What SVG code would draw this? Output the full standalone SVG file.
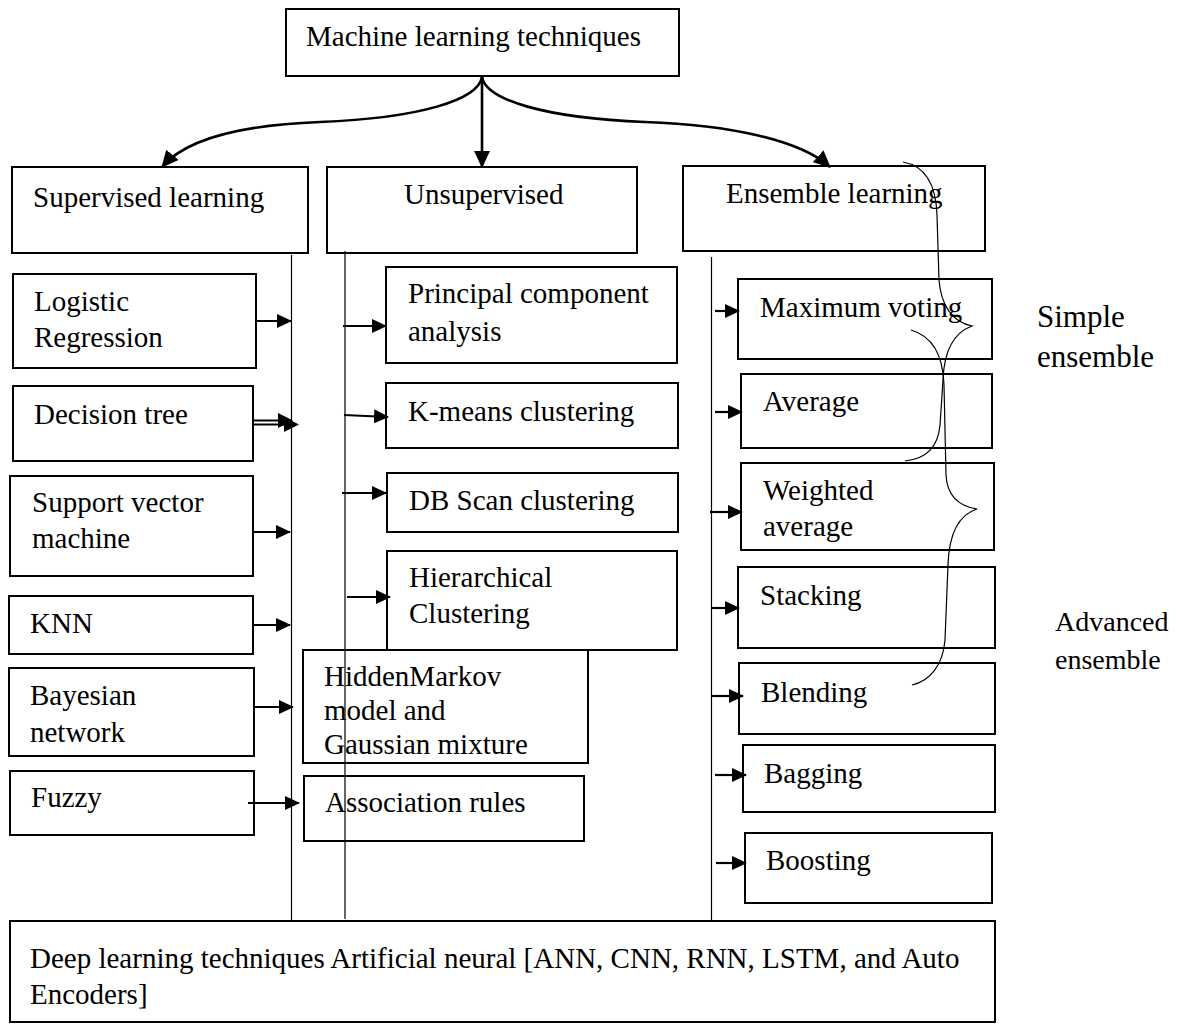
<svg xmlns="http://www.w3.org/2000/svg" width="1184" height="1030" viewBox="0 0 1184 1030">
<style>
.box{fill:none;stroke:#000;stroke-width:2}
.t{font-family:"Liberation Serif","Times New Roman",serif;font-size:29px;fill:#000}
.ar{fill:none;stroke:#000;stroke-width:2.2;marker-end:url(#ah)}
.top{fill:none;stroke:#000;stroke-width:2.6;marker-end:url(#ahb)}
.vl{fill:none;stroke:#000;stroke-width:1.2}
.br{fill:none;stroke:#000;stroke-width:1.2}
</style>
<defs>
<marker id="ah" viewBox="0 0 15 14" refX="14" refY="7" markerWidth="15" markerHeight="14" markerUnits="userSpaceOnUse" orient="auto">
<path d="M0,0 L15,7 L0,14 z" fill="#000"/>
</marker>
<marker id="ahb" viewBox="0 0 17 16" refX="16" refY="8" markerWidth="17" markerHeight="16" markerUnits="userSpaceOnUse" orient="auto">
<path d="M0,0 L17,8 L0,16 z" fill="#000"/>
</marker>
</defs>
<rect width="1184" height="1030" fill="#fff"/>

<g id="node-root"><rect class="box" x="286" y="9" width="393" height="67"/><text class="t" x="306" y="46">Machine learning techniques</text></g>
<g id="node-supervised"><rect class="box" x="12" y="167" width="296" height="86"/><text class="t" x="33" y="207">Supervised learning</text></g>
<g id="node-unsupervised"><rect class="box" x="327" y="167" width="310" height="86"/><text class="t" x="404" y="204">Unsupervised</text></g>
<g id="node-ensemble"><rect class="box" x="683" y="166" width="302" height="85"/><text class="t" x="726" y="203">Ensemble learning</text></g>

<g id="node-logistic"><rect class="box" x="13" y="274" width="243" height="94"/><text class="t" x="34" y="311">Logistic</text><text class="t" x="34" y="347">Regression</text></g>
<g id="node-decision"><rect class="box" x="13" y="386" width="240" height="75"/><text class="t" x="34" y="424">Decision tree</text></g>
<g id="node-svm"><rect class="box" x="10" y="476" width="243" height="100"/><text class="t" x="32" y="512">Support vector</text><text class="t" x="32" y="548">machine</text></g>
<g id="node-knn"><rect class="box" x="9" y="596" width="244" height="58"/><text class="t" x="30" y="633">KNN</text></g>
<g id="node-bayesian"><rect class="box" x="9" y="668" width="245" height="88"/><text class="t" x="30" y="705">Bayesian</text><text class="t" x="30" y="742">network</text></g>
<g id="node-fuzzy"><rect class="box" x="10" y="771" width="244" height="64"/><text class="t" x="31" y="807">Fuzzy</text></g>

<g id="node-pca"><rect class="box" x="386" y="267" width="291" height="96"/><text class="t" x="408" y="303">Principal component</text><text class="t" x="408" y="341">analysis</text></g>
<g id="node-kmeans"><rect class="box" x="386" y="383" width="292" height="65"/><text class="t" x="408" y="421">K-means clustering</text></g>
<g id="node-dbscan"><rect class="box" x="387" y="473" width="291" height="59"/><text class="t" x="409" y="510">DB Scan clustering</text></g>
<g id="node-hierarchical"><rect class="box" x="387" y="551" width="290" height="99"/><text class="t" x="409" y="587">Hierarchical</text><text class="t" x="409" y="623">Clustering</text></g>
<g id="node-hmm"><rect class="box" x="303" y="650" width="285" height="113"/><text class="t" x="324" y="686">HiddenMarkov</text><text class="t" x="324" y="720">model and</text><text class="t" x="324" y="754">Gaussian mixture</text></g>
<g id="node-association"><rect class="box" x="304" y="776" width="280" height="65"/><text class="t" x="325" y="812">Association rules</text></g>

<g id="node-maxvoting"><rect class="box" x="738" y="279" width="254" height="80"/><text class="t" x="760" y="317">Maximum voting</text></g>
<g id="node-average"><rect class="box" x="741" y="374" width="251" height="74"/><text class="t" x="763" y="411">Average</text></g>
<g id="node-weighted"><rect class="box" x="741" y="463" width="253" height="87"/><text class="t" x="763" y="500">Weighted</text><text class="t" x="763" y="536">average</text></g>
<g id="node-stacking"><rect class="box" x="738" y="567" width="257" height="81"/><text class="t" x="760" y="605">Stacking</text></g>
<g id="node-blending"><rect class="box" x="739" y="663" width="256" height="71"/><text class="t" x="761" y="702">Blending</text></g>
<g id="node-bagging"><rect class="box" x="743" y="745" width="252" height="67"/><text class="t" x="764" y="783">Bagging</text></g>
<g id="node-boosting"><rect class="box" x="745" y="833" width="247" height="70"/><text class="t" x="766" y="870">Boosting</text></g>

<g id="node-deep"><rect class="box" x="10" y="921" width="985" height="101"/><text class="t" x="30" y="968">Deep learning techniques Artificial neural [ANN, CNN, RNN, LSTM, and Auto</text><text class="t" x="30" y="1004">Encoders]</text></g>

<g id="label-simple"><text class="t" x="1037" y="327" style="font-size:31px">Simple</text><text class="t" x="1037" y="367" style="font-size:31px">ensemble</text></g>
<g id="label-advanced"><text class="t" x="1055" y="631" style="font-size:28px">Advanced</text><text class="t" x="1055" y="669" style="font-size:28px">ensemble</text></g>

<g id="connectors">
<path class="top" d="M482,77 C478,100 420,118 320,122 C240,125 185,140 162,167"/>
<path class="top" d="M482,77 L482,167"/>
<path class="top" d="M482,77 C486,100 545,118 645,122 C730,125 800,140 830,167"/>

<line class="vl" x1="291.5" y1="255" x2="291.5" y2="921"/>
<line class="vl" x1="345" y1="251" x2="345" y2="919"/>
<line class="vl" x1="711.5" y1="257" x2="711.5" y2="921"/>

<line class="ar" x1="256" y1="321" x2="291" y2="321"/>
<line x1="254" y1="420.5" x2="284" y2="420.5" stroke="#000" stroke-width="2"/>
<line x1="254" y1="424.5" x2="290" y2="424.5" stroke="#000" stroke-width="2"/>
<path d="M278,413 L293,420.5 L278,428 z" fill="#000"/>
<path d="M284,417 L299,424.5 L284,432 z" fill="#000"/>
<line class="ar" x1="253" y1="532" x2="290" y2="532"/>
<line class="ar" x1="253" y1="625" x2="290" y2="625"/>
<line class="ar" x1="254" y1="707" x2="293" y2="707"/>
<line class="ar" x1="248" y1="803" x2="299" y2="803"/>

<line class="ar" x1="343" y1="326" x2="386" y2="326"/>
<line class="ar" x1="344" y1="415" x2="388" y2="417"/>
<line class="ar" x1="342" y1="493" x2="386" y2="493"/>
<line class="ar" x1="347" y1="597" x2="390" y2="597"/>

<line class="ar" x1="715" y1="311" x2="739" y2="311"/>
<line class="ar" x1="715" y1="412" x2="742" y2="412"/>
<line class="ar" x1="710" y1="512" x2="742" y2="512"/>
<line class="ar" x1="712" y1="608" x2="739" y2="608"/>
<line class="ar" x1="712" y1="696" x2="743" y2="696"/>
<line class="ar" x1="715" y1="775" x2="746" y2="775"/>
<line class="ar" x1="716" y1="863" x2="746" y2="863"/>

<path class="br" d="M903,162 C926,166 936,185 937,215 L939,280 C941,305 952,322 972,326 C953,333 944,352 943,380 L940,425 C938,448 925,459 905,461"/>
<path class="br" d="M911,330 C932,336 943,355 944,385 L946,475 C947,495 958,506 977,509 C958,515 949,535 948,565 L945,640 C943,665 930,681 912,685"/>
</g>
</svg>
